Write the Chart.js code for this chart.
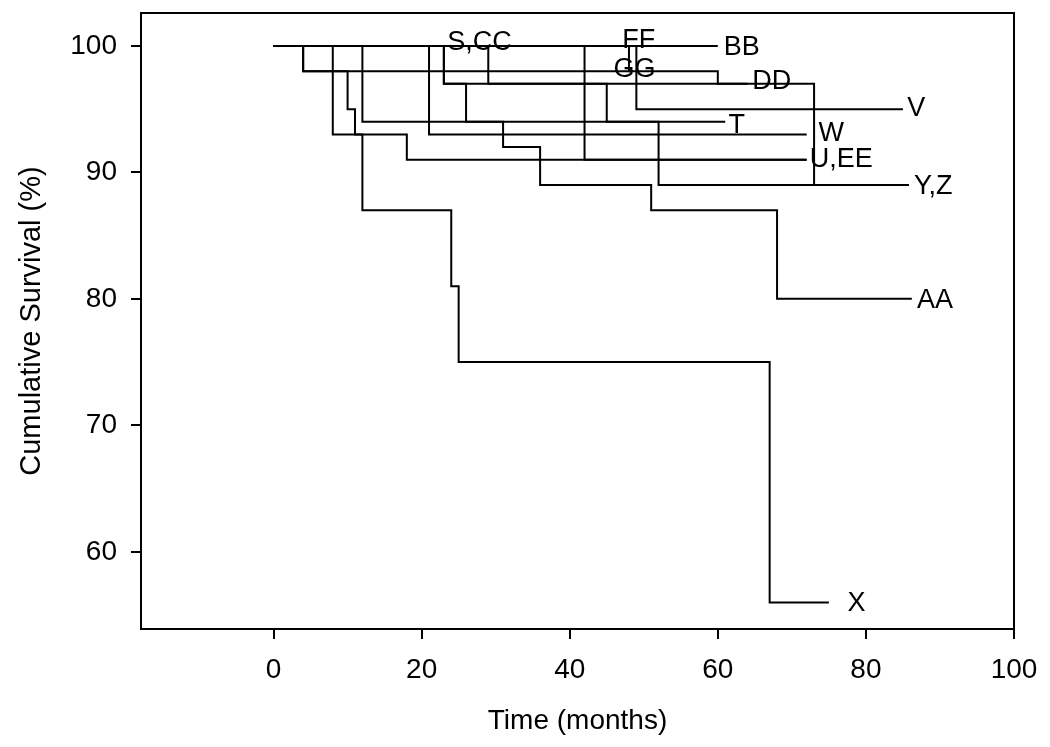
<!DOCTYPE html>
<html>
<head>
<meta charset="utf-8">
<script src="https://cdn.jsdelivr.net/npm/chart.js@4/dist/chart.umd.min.js"></script>
<style>
  html, body { margin: 0; padding: 0; background: #fff; }
  #wrap { width: 1050px; height: 747px; }
</style>
</head>
<body>
<div id="wrap"><canvas id="km" width="1050" height="747"></canvas></div>
<script>
// axis ticks
const xTicks = [0, 20, 40, 60, 80, 100];
const yTicks = [60, 70, 80, 90, 100];

// survival curves: time (months) and cumulative survival (%) at each step
const timeS = [0, 22];
const survS = [100, 100];
const timeT = [0, 23, 45, 61];
const survT = [100, 97, 94, 94];
const timeU = [0, 8, 18, 72];
const survU = [100, 93, 91, 91];
const timeV = [0, 49, 85];
const survV = [100, 95, 95];
const timeW = [0, 21, 72];
const survW = [100, 93, 93];
const timeX = [0, 4, 10, 11, 12, 24, 25, 67, 75];
const survX = [100, 98, 95, 93, 87, 81, 75, 56, 56];
const timeY = [0, 23, 26, 52, 85.8];
const survY = [100, 97, 94, 89, 89];
const timeZ = [0, 29, 73, 85.8];
const survZ = [100, 97, 89, 89];
const timeAA = [0, 12, 31, 36, 51, 68, 86.2];
const survAA = [100, 94, 92, 89, 87, 80, 80];
const timeBB = [0, 60];
const survBB = [100, 100];
const timeCC = [0, 22];
const survCC = [100, 100];
const timeDD = [0, 4, 60, 64];
const survDD = [100, 98, 97, 97];
const timeEE = [0, 42, 72];
const survEE = [100, 91, 91];
const timeFF = [0, 46];
const survFF = [100, 100];
const timeGG = [0, 48, 48.5];
const survGG = [100, 98, 98];

// curve labels and where they sit (months, %)
const labelText = ["S,CC", "FF", "BB", "GG", "DD", "V", "T", "W", "U,EE", "Y,Z", "AA", "X"];
const labelAtX = [23.45, 47.1, 60.8, 45.9, 64.65, 85.6, 61.45, 73.6, 72.4, 86.5, 86.9, 77.5];
const labelAtY = [100.3, 100.4, 99.9, 98.1, 97.2, 95.05, 93.7, 93.1, 91.0, 88.9, 79.85, 55.9];

const curves = [
  { name: "S", t: timeS, s: survS },
  { name: "T", t: timeT, s: survT },
  { name: "U", t: timeU, s: survU },
  { name: "V", t: timeV, s: survV },
  { name: "W", t: timeW, s: survW },
  { name: "X", t: timeX, s: survX },
  { name: "Y", t: timeY, s: survY },
  { name: "Z", t: timeZ, s: survZ },
  { name: "AA", t: timeAA, s: survAA },
  { name: "BB", t: timeBB, s: survBB },
  { name: "CC", t: timeCC, s: survCC },
  { name: "DD", t: timeDD, s: survDD },
  { name: "EE", t: timeEE, s: survEE },
  { name: "FF", t: timeFF, s: survFF },
  { name: "GG", t: timeGG, s: survGG },
];

const FONT = "'Liberation Sans', Arial, sans-serif";

// box around the plot area
const framePlugin = {
  id: "frame",
  afterDraw(chart) {
    const { ctx, chartArea } = chart;
    ctx.save();
    ctx.strokeStyle = "#000";
    ctx.lineWidth = 2;
    ctx.strokeRect(
      chartArea.left,
      chartArea.top,
      chartArea.right - chartArea.left,
      chartArea.bottom - chartArea.top
    );
    ctx.restore();
  },
};

// curve names written next to line ends
const curveLabelPlugin = {
  id: "curveLabels",
  afterDatasetsDraw(chart) {
    const { ctx } = chart;
    const xs = chart.scales.x;
    const ys = chart.scales.y;
    ctx.save();
    ctx.fillStyle = "#000";
    ctx.font = "27px " + FONT;
    ctx.textAlign = "left";
    ctx.textBaseline = "middle";
    labelText.forEach((txt, i) => {
      ctx.fillText(txt, xs.getPixelForValue(labelAtX[i]), ys.getPixelForValue(labelAtY[i]));
    });
    ctx.restore();
  },
};

const datasets = curves.map((c) => ({
  label: c.name,
  data: c.t.map((t, i) => ({ x: t, y: c.s[i] })),
  borderColor: "#000",
  borderWidth: 2,
  pointRadius: 0,
  fill: false,
  stepped: "before",
}));

new Chart(document.getElementById("km"), {
  type: "line",
  data: { datasets: datasets },
  options: {
    responsive: false,
    animation: false,
    layout: { padding: { top: 13, right: 36, left: 0, bottom: 0 } },
    plugins: {
      legend: { display: false },
      tooltip: { enabled: false },
    },
    scales: {
      x: {
        type: "linear",
        min: -17.9,
        max: 100,
        afterBuildTicks: (scale) => {
          scale.ticks = xTicks.map((v) => ({ value: v }));
        },
        afterFit: (scale) => {
          scale.height = 118;
          scale.paddingLeft = 0;
          scale.paddingRight = 0;
        },
        ticks: {
          color: "#000",
          font: { family: FONT, size: 28 },
          padding: 14,
          maxRotation: 0,
        },
        grid: { drawOnChartArea: false, tickLength: 10, color: "#000", lineWidth: 2 },
        border: { display: false },
        title: {
          display: true,
          text: "Time (months)",
          color: "#000",
          font: { family: FONT, size: 28 },
          padding: { top: 0, bottom: 9 },
        },
      },
      y: {
        type: "linear",
        min: 53.9,
        max: 102.6,
        afterBuildTicks: (scale) => {
          scale.ticks = yTicks.map((v) => ({ value: v }));
        },
        afterFit: (scale) => {
          scale.width = 141;
          scale.paddingTop = 0;
          scale.paddingBottom = 0;
        },
        ticks: {
          color: "#000",
          font: { family: FONT, size: 28 },
          padding: 14,
        },
        grid: { drawOnChartArea: false, tickLength: 10, color: "#000", lineWidth: 2 },
        border: { display: false },
        title: {
          display: true,
          text: "Cumulative Survival (%)",
          color: "#000",
          font: { family: FONT, size: 29 },
          padding: { top: 15, bottom: 0 },
        },
      },
    },
  },
  plugins: [framePlugin, curveLabelPlugin],
});
</script>
</body>
</html>
